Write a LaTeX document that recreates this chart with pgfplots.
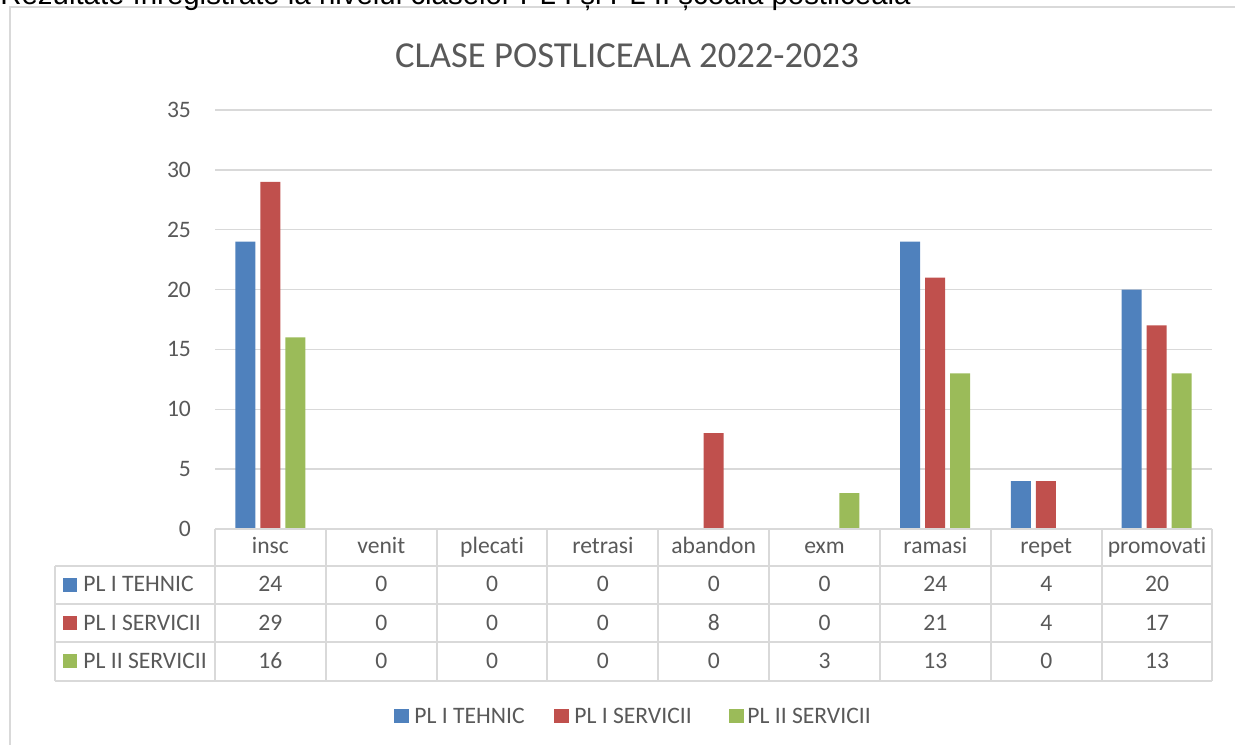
\documentclass[border=0pt]{standalone}
\usepackage{pgfplots}
\pgfplotsset{compat=1.18}
\usepackage{fontspec}
\setmainfont{Carlito}[Ligatures=NoCommon]
\newfontfamily\arial{Liberation Sans}
\definecolor{cblue}{HTML}{4F81BD}
\definecolor{cred}{HTML}{C0504D}
\definecolor{cgreen}{HTML}{9BBB59}
\definecolor{gridc}{HTML}{D9D9D9}
\definecolor{txt}{HTML}{595959}
\begin{document}
\begin{tikzpicture}
\begin{scope}[x=0.5pt,y=0.5pt]
\useasboundingbox (0,0) rectangle (1235,744);
% outer chart border
\draw[gridc,line width=1pt] (9.5,-5) -- (9.5,736.5) -- (1240,736.5);
% cut-off heading above the chart
\node[anchor=base west,inner sep=0,font=\arial\fontsize{14.7}{16}\selectfont] at (0,739) {Rezultate înregistrate la nivelul claselor PL I și PL II școala postliceala};
% title
\node[anchor=base,inner sep=0,text=txt,font=\fontsize{18.3}{20}\selectfont] at (627,676) {CLASE POSTLICEALA 2022-2023};
\end{scope}
\begin{axis}[
  at={(107.5pt,107.5pt)}, anchor=south west,
  scale only axis, width=498.5pt, height=209.5pt,
  xmin=-0.5, xmax=8.5, ymin=0, ymax=35,
  enlargelimits=false,
  ytick={0,5,...,35}, xtick=\empty,
  ymajorgrids, grid style={gridc,line width=0.75pt},
  axis line style={draw=none}, major tick length=0,
  ybar=2.5pt, bar width=10pt,
  yticklabel style={text=txt,font=\fontsize{11.8}{14}\selectfont,xshift=-8.5pt},
  /pgf/number format/assume math mode=true,
  clip=false,
]
\addplot[fill=cblue,draw=none] coordinates {(0,24) (1,0) (2,0) (3,0) (4,0) (5,0) (6,24) (7,4) (8,20)};
\addplot[fill=cred,draw=none] coordinates {(0,29) (1,0) (2,0) (3,0) (4,8) (5,0) (6,21) (7,4) (8,17)};
\addplot[fill=cgreen,draw=none] coordinates {(0,16) (1,0) (2,0) (3,0) (4,0) (5,3) (6,13) (7,0) (8,13)};
\end{axis}
\begin{scope}[x=0.5pt,y=0.5pt]
% data table
\begin{scope}[gridc,line width=1pt]
\draw (215,215) -- (1212,215);
\draw (55,178) -- (1212,178);
\draw (55,140) -- (1212,140);
\draw (55,102) -- (1212,102);
\draw (55,63) -- (1212,63);
\draw (55,178) -- (55,63);
\foreach \k in {0,...,9} {\draw ({215+\k*110.83},215) -- ({215+\k*110.83},63);}
\end{scope}
\begin{scope}[every node/.style={anchor=base,inner sep=0,text=txt,font=\fontsize{11.8}{14}\selectfont}]
\foreach \lab [count=\i from 0] in {insc,venit,plecati,retrasi,abandon,exm,ramasi,repet,promovati}
  {\node at ({215+(\i+0.5)*110.83},190.5) {\lab};}
\foreach \v [count=\i from 0] in {24,0,0,0,0,0,24,4,20}
  {\node at ({215+(\i+0.5)*110.83},152.3) {\v};}
\foreach \v [count=\i from 0] in {29,0,0,0,8,0,21,4,17}
  {\node at ({215+(\i+0.5)*110.83},114) {\v};}
\foreach \v [count=\i from 0] in {16,0,0,0,0,3,13,0,13}
  {\node at ({215+(\i+0.5)*110.83},76) {\v};}
\node[anchor=base west] at (83,152.3) {PL I TEHNIC};
\node[anchor=base west] at (83,114) {PL I SERVICII};
\node[anchor=base west] at (83,76) {PL II SERVICII};
% legend
\node[anchor=base west] at (414,21) {PL I TEHNIC};
\node[anchor=base west] at (574,21) {PL I SERVICII};
\node[anchor=base west] at (747,21) {PL II SERVICII};
\end{scope}
\fill[cblue] (63,152.3) rectangle ++(14,14);
\fill[cred] (63,114) rectangle ++(14,14);
\fill[cgreen] (63,76) rectangle ++(14,14);
\fill[cblue] (394,21) rectangle ++(15,14);
\fill[cred] (554,21) rectangle ++(15,14);
\fill[cgreen] (729,21) rectangle ++(15,14);
\end{scope}
\end{tikzpicture}
\end{document}
